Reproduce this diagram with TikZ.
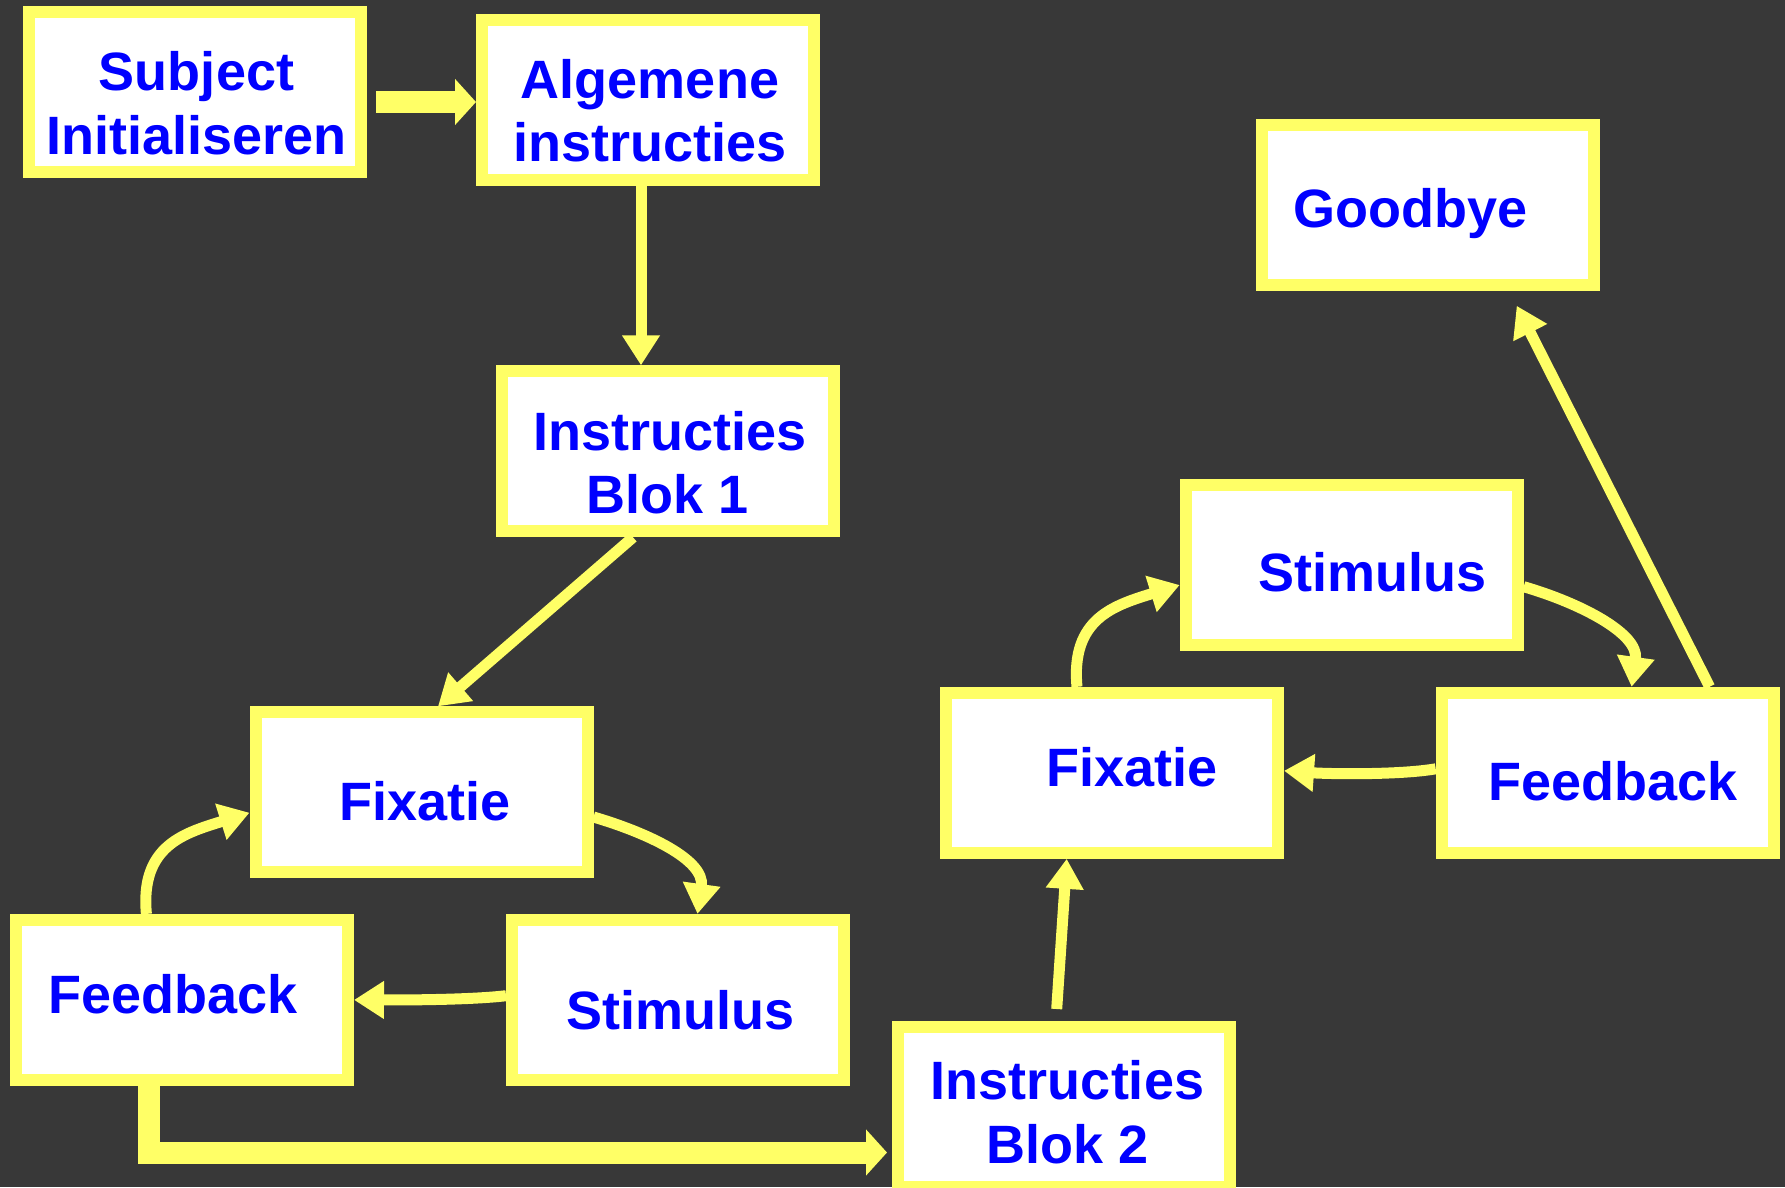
\documentclass[tikz,border=0pt]{standalone}
\usepackage{fontspec}
\setmainfont{Liberation Sans}
\usetikzlibrary{arrows.meta,calc}
\definecolor{bgc}{RGB}{56,56,56}
\definecolor{ylw}{RGB}{255,255,102}
\definecolor{txtblue}{RGB}{0,0,255}
\begin{document}
\begin{tikzpicture}[x=1pt,y=-1pt,
  box/.style={draw=ylw, fill=white, line width=12pt, outer sep=6pt, minimum width=332pt, minimum height=160pt, inner sep=0pt},
  lbl/.style={text=txtblue, font=\fontsize{54pt}{64pt}\selectfont\bfseries, inner sep=0pt, anchor=base},
  arr/.style={draw=ylw, line width=11pt, -{Triangle[length=30pt,width=36pt]}},
  fat/.style={draw=ylw, line width=22pt, line join=miter, -{Triangle[length=21pt,width=45pt]}},
]
\useasboundingbox (0,0) rectangle (1785,1187);
\fill[bgc] (0,0) rectangle (1785,1187);
\clip (0,0) rectangle (1785,1187);

% boxes
\node[box] (sub)   at (195.2,92.3)   {};
\node[box] (alg)   at (648,100)      {};
\node[box] (b1)    at (668,451.3)    {};
\node[box] (gb)    at (1427.9,204.9) {};
\node[box] (stimR) at (1351.7,565)   {};
\node[box] (fixR)  at (1112,772.8)   {};
\node[box] (feedR) at (1607.7,772.8) {};
\node[box] (fixL)  at (421.5,792.3)  {};
\node[box] (feedL) at (182,999.9)    {};
\node[box] (stimL) at (678,999.9)    {};
\node[box] (b2)    at (1064,1106.7)  {};

% labels
\node[lbl] (subA)  at (196.5,90)    {Subject};
\node[lbl] (subB)  at (196.5,154)   {Initialiseren};
\node[lbl] (algA)  at (650,98)      {Algemene};
\node[lbl] (algB)  at (650.4,161)   {instructies};
\node[lbl] (b1A)   at (670.3,450)   {Instructies};
\node[lbl] (b1B)   at (667.5,513.3) {Blok 1};
\node[lbl] (gbA)   at (1410,227)    {Goodbye};
\node[lbl] (stimRA) at (1372,591.7) {Stimulus};
\node[lbl] (fixRA) at (1131.8,786)  {Fixatie};
\node[lbl] (feedRA) at (1613,800.7) {Feedback};
\node[lbl] (fixLA) at (424.8,820.7) {Fixatie};
\node[lbl] (feedLA) at (172.8,1013.3) {Feedback};
\node[lbl] (stimLA) at (680.3,1029) {Stimulus};
\node[lbl] (b2A)   at (1067.5,1099.3) {Instructies};
\node[lbl] (b2B)   at (1067.8,1163.3) {Blok 2};

% straight connectors
\draw[fat] ([xshift=9pt,yshift=-9.7pt]sub.east) -- ([yshift=-2pt]alg.west);
\draw[arr] ([xshift=-7pt]alg.south) -- ([xshift=-7pt]alg.south |- b1.north);
\draw[arr] ([xshift=-35pt]b1.south) -- ([xshift=16.5pt]fixL.north);
\draw[fat] ([xshift=-33.3pt]feedL.south) |- ([xshift=-5pt,yshift=-45.8pt]b2.west);
\draw[arr] ([xshift=-7.3pt,yshift=11.7pt]b2.north) -- ([xshift=-45.3pt]fixR.south);
\draw[arr] ([xshift=101.9pt]feedR.north) -- ([xshift=88.8pt,yshift=-14.9pt]gb.south);

% left loop
\draw[arr] ([yshift=-24.7pt]fixL.east) .. controls (648,833) and (705,860) .. ([xshift=19.5pt]stimL.north);
\draw[arr] ([yshift=4.2pt]stimL.west) .. controls (470,1000) and (400,1000) .. (feedL.east);
\draw[arr] ([xshift=-35.6pt]feedL.north) .. controls (140,845) and (185,833) .. ([yshift=-20.4pt]fixL.west);

% right loop
\draw[arr] ([xshift=-35pt]fixR.north) .. controls (1070.6,618.3) and (1114.3,605.3) .. ([yshift=-20pt]stimR.west);
\draw[arr] ([yshift=-21.7pt]stimR.east) .. controls (1579,602.7) and (1639.1,633.3) .. ([xshift=23.9pt]feedR.north);
\draw[arr] ([yshift=4pt]feedR.west) .. controls (1400,775) and (1330,774) .. ([yshift=2pt]fixR.east);
\end{tikzpicture}
\end{document}
